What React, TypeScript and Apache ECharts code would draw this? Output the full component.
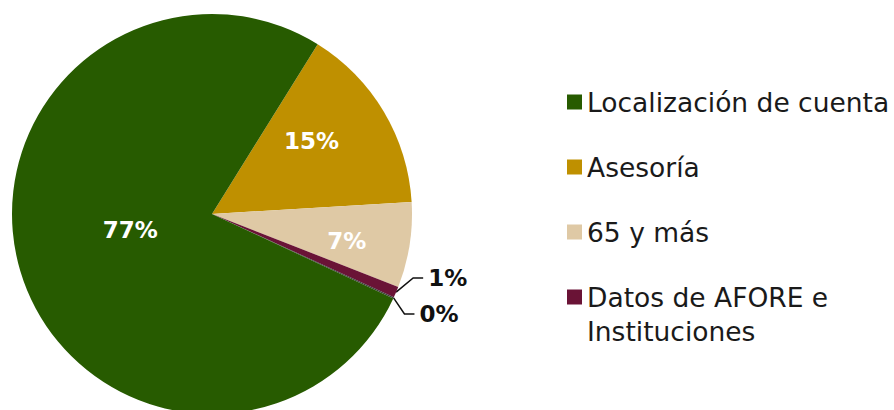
import React, { useEffect, useRef } from "react";
import * as echarts from "echarts";

const sliceNames = ["Asesoría", "65 y más", "Datos de AFORE e Instituciones", "Otros", "Localización de cuenta"];
const sliceValues = [15.2, 6.9, 0.9, 0.1, 77.0];
const sliceColors = ["#BF9000", "#DFC9A5", "#6A1336", "#3A3A3A", "#275B00"];
const legendMain = ["Localización de cuenta", "Asesoría", "65 y más"];
const legendLast = ["Datos de AFORE e Instituciones"];

const insideOffsets: Record<string, number[]> = {
  "Asesoría": [11, -20],
  "65 y más": [33, 11],
  "Localización de cuenta": [17, -13],
};

export default function App() {
  const ref = useRef<HTMLDivElement>(null);
  useEffect(() => {
    document.body.style.margin = "0";
    const chart = echarts.init(ref.current!, null, { renderer: "svg" });
    const fmt = (p: any) => Math.round(p.percent) + "%";
    const data = sliceNames.map((n, i) => {
      const item: any = { name: n, value: sliceValues[i], itemStyle: { color: sliceColors[i] } };
      if (insideOffsets[n]) {
        item.label = { position: "inside", color: "#ffffff", offset: insideOffsets[n], lineHeight: 24 };
        item.labelLine = { show: false };
      }
      return item;
    });
    const legendText = {
      fontFamily: "DejaVu Sans",
      fontSize: 26.5,
      color: "#1a1a1a",
      lineHeight: 34,
    };
    chart.setOption({
      animation: false,
      legend: [
        {
          data: legendMain,
          orient: "vertical",
          left: 567,
          top: 85,
          padding: 0,
          itemWidth: 15,
          itemHeight: 15,
          itemGap: 31,
          icon: "rect",
          textStyle: legendText,
          selectedMode: false,
        },
        {
          data: legendLast,
          orient: "vertical",
          left: 567,
          top: 246,
          padding: 0,
          itemWidth: 15,
          itemHeight: 15,
          icon: "rect",
          formatter: () => " \nDatos de AFORE e\nInstituciones",
          textStyle: legendText,
          selectedMode: false,
        },
      ],
      series: [
        {
          type: "pie",
          left: 0,
          top: 0,
          width: 894,
          height: 332,
          center: [212, 214],
          radius: 200,
          startAngle: 58.1,
          clockwise: true,
          avoidLabelOverlap: true,
          data,
          itemStyle: { borderWidth: 0 },
          label: {
            show: true,
            position: "outside",
            formatter: fmt,
            fontFamily: "DejaVu Sans",
            fontWeight: "bold",
            fontSize: 23,
            lineHeight: 34,
            color: "#111111",
          },
          labelLine: {
            show: true,
            length: 12,
            length2: 10,
            lineStyle: { color: "#111111", width: 1.5 },
          },
          emphasis: { disabled: true },
        },
      ],
    });
    return () => chart.dispose();
  }, []);
  return <div ref={ref} style={{ width: 894, height: 410 }} />;
}
